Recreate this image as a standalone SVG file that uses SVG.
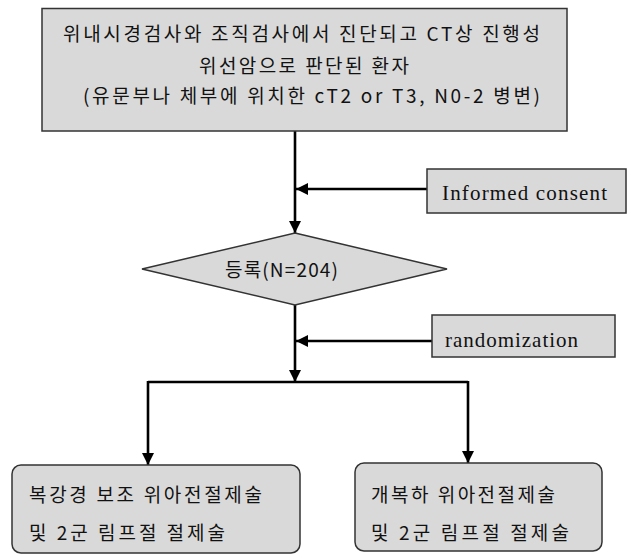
<svg xmlns="http://www.w3.org/2000/svg" width="629" height="554" viewBox="0 0 629 554">
<style>
.box{fill:#d9d9d9;stroke:#333;stroke-width:1.5}
.ko{font-family:"Noto Sans CJK KR","Noto Sans",sans-serif;font-size:19px;fill:#111}
.kb{font-size:19px}
.en{font-family:"Liberation Serif",serif;font-size:21px;fill:#111}
.con{fill:none;stroke:#000;stroke-width:2.6}
</style>
<defs>
<marker id="ah" markerUnits="userSpaceOnUse" markerWidth="12" markerHeight="12" refX="12" refY="6" orient="auto">
<path d="M0,0 L12,6 L0,12 z" fill="#000"/>
</marker>
</defs>
<g id="connectors">
<path class="con" d="M295,131 V233" marker-end="url(#ah)"/>
<path class="con" d="M427,189 H296" marker-end="url(#ah)"/>
<path class="con" d="M295,305 V382" marker-end="url(#ah)"/>
<path class="con" d="M432,341 H296" marker-end="url(#ah)"/>
<path class="con" d="M148,382 H468"/>
<path class="con" d="M148,381 V465" marker-end="url(#ah)"/>
<path class="con" d="M468,381 V463" marker-end="url(#ah)"/>
</g>
<g id="patient">
<rect class="box" x="42" y="8.5" width="525" height="122.5"/>
<text class="ko" x="63" y="41" textLength="477" lengthAdjust="spacing">위내시경검사와 조직검사에서 진단되고 CT상 진행성</text>
<text class="ko" x="199" y="73" textLength="210" lengthAdjust="spacing">위선암으로 판단된 환자</text>
<text class="ko" x="83" y="103" textLength="457" lengthAdjust="spacing">(유문부나 체부에 위치한 cT2 or T3, N0-2 병변)</text>
</g>
<g id="consent">
<rect class="box" x="427" y="169" width="199" height="44"/>
<text class="en" x="442" y="200" textLength="165" lengthAdjust="spacing">Informed consent</text>
</g>
<g id="enroll">
<polygon class="box" points="295,233 447,269 295,305 142,269"/>
<text class="ko" x="225" y="277" textLength="113" lengthAdjust="spacing">등록(N=204)</text>
</g>
<g id="random">
<rect class="box" x="432" y="315" width="183" height="42"/>
<text class="en" x="445" y="347" textLength="133" lengthAdjust="spacing">randomization</text>
</g>
<g id="lap">
<rect class="box" x="12" y="465" width="288" height="88" rx="9"/>
<text class="ko kb" x="29" y="502" textLength="233" lengthAdjust="spacing">복강경 보조 위아전절제술</text>
<text class="ko kb" x="29" y="540" textLength="196" lengthAdjust="spacing">및 2군 림프절 절제술</text>
</g>
<g id="open">
<rect class="box" x="355" y="463" width="247" height="88" rx="9"/>
<text class="ko kb" x="371" y="502" textLength="184" lengthAdjust="spacing">개복하 위아전절제술</text>
<text class="ko kb" x="371" y="540" textLength="198" lengthAdjust="spacing">및 2군 림프절 절제술</text>
</g>
</svg>
